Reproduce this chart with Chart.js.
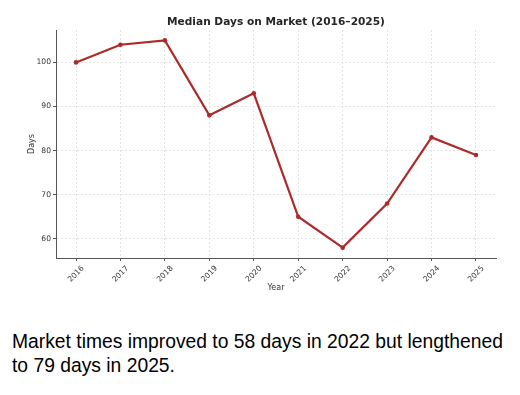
<!DOCTYPE html>
<html>
<head>
<meta charset="utf-8">
<script src="https://cdn.jsdelivr.net/npm/chart.js@4"></script>
<style>
  html, body { margin: 0; padding: 0; background: #fff; }
  #wrap { position: relative; width: 520px; height: 395px; overflow: hidden; }
  #chart-box { position: absolute; left: 0; top: 0; width: 520px; height: 300px; }
  #caption {
    position: absolute; left: 12px; top: 330px; width: 500px;
    font-family: "Liberation Sans", Arial, sans-serif; font-size: 19.3px;
    line-height: 24px; color: #000;
  }
</style>
</head>
<body>
<div id="wrap">
  <div id="chart-box"><canvas id="chart"></canvas></div>
  <div id="caption">Market times improved to 58 days in 2022 but lengthened to 79 days in 2025.</div>
</div>
<script>
var years = [2016, 2017, 2018, 2019, 2020, 2021, 2022, 2023, 2024, 2025];
var medianDays = [100, 104, 105, 88, 93, 65, 58, 68, 83, 79];
var yTicks = [60, 70, 80, 90, 100];
var chartTitle = 'Median Days on Market (2016–2025)';

var lineColor = '#ad2a2a';
var gridColor = '#e2e2e2';
var axisColor = '#555';
var textColor = '#333';

// title drawn over the plot area centre, like the original
var plotTitle = {
  id: 'plotTitle',
  afterDraw: function (chart) {
    var ctx = chart.ctx;
    var area = chart.chartArea;
    ctx.save();
    ctx.font = 'bold 10.6px "DejaVu Sans"';
    ctx.fillStyle = '#262626';
    ctx.textAlign = 'center';
    ctx.textBaseline = 'middle';
    ctx.fillText(chartTitle, (area.left + area.right) / 2, 22);
    ctx.restore();
  }
};

var points = years.map(function (y, i) {
  return { x: y, y: medianDays[i] };
});

new Chart(document.getElementById('chart'), {
  type: 'line',
  data: {
    datasets: [{
      data: points,
      borderColor: lineColor,
      backgroundColor: lineColor,
      borderWidth: 2.2,
      pointRadius: 2.3,
      pointBorderWidth: 0,
      pointHoverRadius: 2.3,
      tension: 0
    }]
  },
  plugins: [plotTitle],
  options: {
    responsive: true,
    maintainAspectRatio: false,
    animation: false,
    layout: { padding: { top: 30, right: 24, bottom: 0, left: 0 } },
    plugins: {
      legend: { display: false },
      tooltip: { enabled: false }
    },
    scales: {
      x: {
        type: 'linear',
        min: 2015.55,
        max: 2025.45,
        afterBuildTicks: function (s) {
          s.ticks = years.map(function (v) { return { value: v }; });
        },
        afterFit: function (s) {
          s.height = 42;
          s.paddingLeft = 0;
          s.paddingRight = 0;
        },
        ticks: {
          minRotation: 45,
          maxRotation: 45,
          labelOffset: 7,
          padding: 3,
          color: textColor,
          font: { family: 'DejaVu Sans', size: 7.6 },
          callback: function (v) { return String(v); }
        },
        grid: {
          color: gridColor,
          tickColor: axisColor,
          tickLength: 3,
          tickBorderDash: []
        },
        border: { display: true, color: axisColor, width: 1, dash: [2, 2] },
        title: {
          display: true,
          text: 'Year',
          color: textColor,
          font: { family: 'DejaVu Sans', size: 8 },
          padding: { top: 0, bottom: 7 }
        }
      },
      y: {
        min: 55.65,
        max: 107.35,
        afterBuildTicks: function (s) {
          s.ticks = yTicks.map(function (v) { return { value: v }; });
        },
        afterFit: function (s) {
          s.width = 56;
          s.paddingTop = 0;
          s.paddingBottom = 0;
        },
        ticks: {
          padding: 2,
          color: textColor,
          font: { family: 'DejaVu Sans', size: 7.6 }
        },
        grid: {
          color: gridColor,
          tickColor: axisColor,
          tickLength: 3,
          tickBorderDash: []
        },
        border: { display: true, color: axisColor, width: 1, dash: [2, 2] },
        title: {
          display: true,
          text: 'Days',
          color: textColor,
          font: { family: 'DejaVu Sans', size: 8 },
          padding: { top: 27, bottom: 0 }
        }
      }
    }
  }
});
</script>
</body>
</html>
